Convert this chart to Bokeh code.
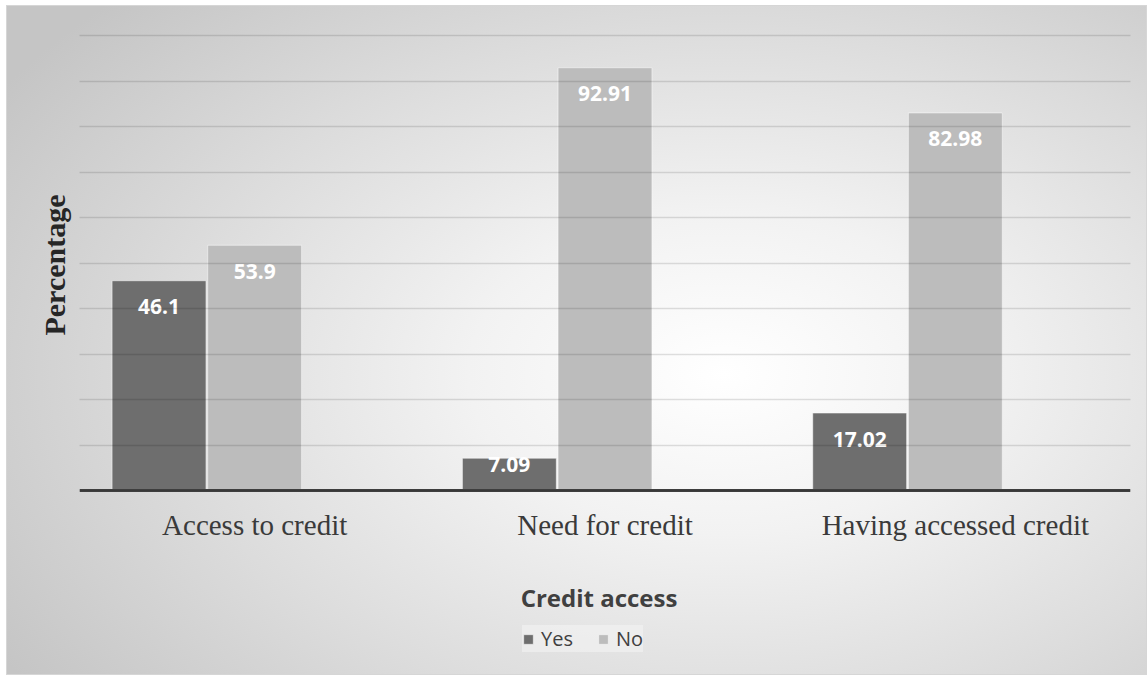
from bokeh.plotting import figure
from bokeh.models import (ColumnDataSource, FactorRange, Range1d, FixedTicker, Legend,
                          LegendItem, Span)
from bokeh.transform import dodge
from bokeh.core.properties import value
from bokeh.embed import file_html
from bokeh.resources import INLINE

categories = ["Access to credit", "Need for credit", "Having accessed credit"]
yes_values = [46.1, 7.09, 17.02]
no_values = [53.9, 92.91, 82.98]
yes_labels = ["46.1", "7.09", "17.02"]
no_labels = ["53.9", "92.91", "82.98"]
y_ticks = [0, 10, 20, 30, 40, 50, 60, 70, 80, 90, 100]
x_title = "Credit access"
y_title = "Percentage"

W, H = 1141, 670
TOP = 27
PX_PER_UNIT = 4.55           # pixels per percentage point
BASE_FROM_BOTTOM = 186       # pixels between baseline and bottom of frame
LABEL_PX = 26
min_label = 2 * LABEL_PX / PX_PER_UNIT
frame_h = H - TOP
y_lo = -BASE_FROM_BOTTOM / PX_PER_UNIT
y_hi = y_lo + frame_h / PX_PER_UNIT

src = ColumnDataSource(dict(
    cat=categories,
    yes=yes_values,
    no=no_values,
    yes_lab=yes_labels,
    no_lab=no_labels,
    yes_ly=[max(v, min_label) for v in yes_values],
    no_ly=[max(v, min_label) for v in no_values],
))

p = figure(x_range=FactorRange(*categories), y_range=Range1d(y_lo, y_hi),
           width=W, height=H, output_backend="svg", toolbar_location=None,
           x_axis_location=None,
           min_border_left=72, min_border_right=18, min_border_top=TOP, min_border_bottom=0,
           margin=(5, 0, 0, 6))

p.background_fill_alpha = 0
p.border_fill_alpha = 0
p.outline_line_color = None
p.styles = {
    "background": "radial-gradient(ellipse 75% 80% at 63% 55%, #ffffff 0%, #f2f2f2 30%, #dcdcdc 65%, #c5c5c5 100%)",
    "border": "1px solid #d6d6d6",
}

BW = 0.268
r_yes = p.vbar(x=dodge("cat", -0.273, range=p.x_range), top="yes", width=BW, source=src,
               fill_color="#6e6e6e", line_color="#ffffff", line_alpha=0.5, line_width=1)
r_no = p.vbar(x=dodge("cat", 0.0, range=p.x_range), top="no", width=BW, source=src,
              fill_color="#bcbcbc", line_color="#ffffff", line_alpha=0.5, line_width=1)

lab_font = value("Open Sans")
p.text(x=dodge("cat", -0.273, range=p.x_range), y="yes_ly", text="yes_lab", source=src,
       text_font=lab_font, text_font_style="bold", text_font_size="21px", text_color="white",
       text_align="center", text_baseline="middle", y_offset=LABEL_PX)
p.text(x=dodge("cat", 0.0, range=p.x_range), y="no_ly", text="no_lab", source=src,
       text_font=lab_font, text_font_style="bold", text_font_size="21px", text_color="white",
       text_align="center", text_baseline="middle", y_offset=LABEL_PX)

# grid
p.xgrid.grid_line_color = None
p.yaxis.ticker = FixedTicker(ticks=y_ticks)
p.ygrid.ticker = FixedTicker(ticks=y_ticks)
p.ygrid.grid_line_color = "#000000"
p.ygrid.grid_line_alpha = 0.12
p.ygrid.grid_line_width = 1.5
p.ygrid.level = "overlay"

# baseline (category axis line)
p.add_layout(Span(location=0, dimension="width", line_color="#404040", line_width=3))

# category labels
p.text(x="cat", y=0, text="cat", source=src, text_font=value("Liberation Serif"),
       text_font_size="29px", text_color="#3a3a3a", text_align="center",
       text_baseline="middle", y_offset=34)

# x title (centre of the category range)
title_src = ColumnDataSource(dict(x=[len(categories) / 2.0], t=[x_title]))
p.text(x="x", y=0, text="t", source=title_src, text_font=value("Open Sans"),
       text_font_style="bold", text_font_size="24px", text_color="#404040",
       text_align="center", text_baseline="middle", y_offset=107, x_offset=-6)

# y axis (label lifted to sit beside the value region, not the whole frame)
p.yaxis.axis_line_color = None
p.yaxis.major_tick_line_color = None
p.yaxis.minor_tick_line_color = None
p.yaxis.major_label_text_font_size = "0px"
p.yaxis.axis_label = "\u00a0" * 24 + y_title
p.yaxis.axis_label_text_font = "Liberation Serif"
p.yaxis.axis_label_text_font_style = "bold"
p.yaxis.axis_label_text_font_size = "30px"
p.yaxis.axis_label_text_color = "#262626"
p.yaxis.axis_label_standoff = 3

legend = Legend(items=[LegendItem(label="Yes", renderers=[r_yes]),
                       LegendItem(label="No", renderers=[r_no])],
                orientation="horizontal", location=(443, 24))
legend.label_text_font = "Open Sans"
legend.label_text_font_size = "20px"
legend.label_text_color = "#404040"
legend.label_height = 20
legend.glyph_width = 12
legend.glyph_height = 12
legend.spacing = 24
legend.label_standoff = 7
legend.padding = 12
legend.margin = 0
legend.background_fill_color = "#f4f4f4"
legend.background_fill_alpha = 0.6
legend.border_line_color = None
p.add_layout(legend)

open("out.html", "w").write(file_html(p, INLINE))
